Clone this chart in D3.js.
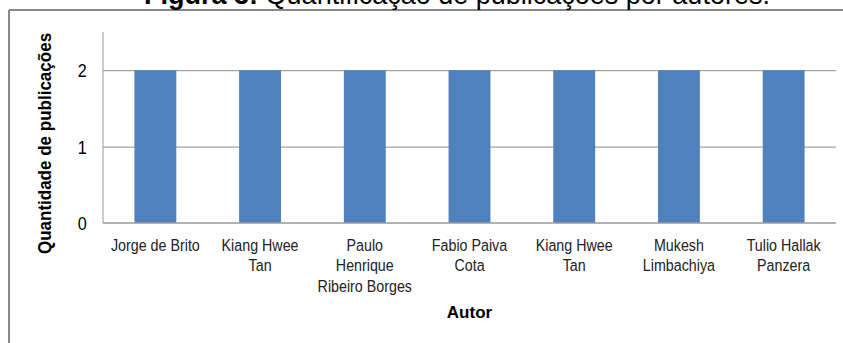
<!DOCTYPE html>
<html>
<head>
<meta charset="utf-8">
<script src="https://cdn.jsdelivr.net/npm/d3@7"></script>
<style>
  html, body { margin: 0; padding: 0; background: #fff; }
  svg { display: block; }
</style>
</head>
<body>
<svg id="chart" width="843" height="343"></svg>
<script>
// Publications per author
const authors = [
  ["Jorge de Brito"],
  ["Kiang Hwee", "Tan"],
  ["Paulo", "Henrique", "Ribeiro Borges"],
  ["Fabio Paiva", "Cota"],
  ["Kiang Hwee", "Tan"],
  ["Mukesh", "Limbachiya"],
  ["Tulio Hallak", "Panzera"]
];
const publications = [2, 2, 2, 2, 2, 2, 2];
const yTicks = [0, 1, 2];

const svg = d3.select("#chart");
const W = 843, H = 343;
const plot = { left: 103, right: 836, top: 32, bottom: 223 };
const sans = "'Liberation Sans', Arial, sans-serif";
const condense = 0.84; // horizontal squeeze for the narrow category labels

// Outer frame (top and left edges visible)
svg.append("line").attr("x1", 9).attr("x2", W).attr("y1", 10).attr("y2", 10)
  .attr("stroke", "#888").attr("stroke-width", 2);
svg.append("line").attr("x1", 9).attr("x2", 9).attr("y1", 10).attr("y2", H)
  .attr("stroke", "#888").attr("stroke-width", 2);

// Caption above the frame
const cap = svg.append("text").attr("x", 457).attr("y", 4)
  .attr("text-anchor", "middle").attr("font-family", sans).attr("font-size", 27).attr("fill", "#000");
cap.append("tspan").attr("font-weight", "bold").text("Figura 3:");
cap.append("tspan").text(" Quantificação de publicações por autores.");

const idx = authors.map((d, i) => i);
const x = d3.scaleBand().domain(idx).range([plot.left, plot.right]).paddingInner(0.6).paddingOuter(0.3);
const y = d3.scaleLinear().domain([0, 2.5]).range([plot.bottom, plot.top]);

// Horizontal gridlines
svg.append("g")
  .attr("transform", `translate(${plot.left},0)`)
  .call(d3.axisLeft(y).tickValues(yTicks.filter(v => v > 0)).tickSize(-(plot.right - plot.left)).tickFormat(""))
  .call(g => g.select(".domain").remove())
  .call(g => g.selectAll("line").attr("stroke", "#8c8c8c").attr("stroke-width", 1));

// Bars
svg.append("g").selectAll("rect").data(publications).join("rect")
  .attr("x", (d, i) => x(i))
  .attr("y", d => y(d))
  .attr("width", x.bandwidth())
  .attr("height", d => y(0) - y(d))
  .attr("fill", "#4f81bd");

// Y axis
svg.append("g")
  .attr("transform", `translate(${plot.left},0)`)
  .call(d3.axisLeft(y).tickValues(yTicks).tickSize(0).tickPadding(18).tickFormat(d3.format("d")))
  .call(g => g.select(".domain").attr("stroke", "#9a9a9a").attr("d", `M0,${plot.top}V${plot.bottom}`))
  .call(g => g.selectAll("text").attr("font-family", sans).attr("font-size", 18).attr("fill", "#000")
    .attr("transform", "scale(0.9,1)").attr("dy", "0.36em"));

// X axis baseline and wrapped labels
const xAxis = svg.append("g")
  .attr("transform", `translate(0,${plot.bottom})`)
  .call(d3.axisBottom(x).tickSize(0).tickFormat(""))
  .call(g => g.select(".domain").attr("stroke", "#9a9a9a").attr("stroke-width", 1.5).attr("d", `M${plot.left},0H${plot.right}`));

xAxis.selectAll(".tick").each(function (i) {
  const t = d3.select(this).select("text")
    .attr("y", 0).attr("dy", null)
    .attr("transform", `scale(${condense},1)`)
    .attr("font-family", sans).attr("font-size", 17).attr("fill", "#222");
  authors[i].forEach((line, k) => {
    t.append("tspan").attr("x", 0).attr("y", 28 + k * 20.5).text(line);
  });
});

// Axis titles
svg.append("text")
  .attr("transform", `translate(51,${(plot.top + plot.bottom) / 2 + 16}) rotate(-90) scale(0.92,1)`)
  .attr("text-anchor", "middle").attr("font-family", sans).attr("font-weight", "bold")
  .attr("font-size", 18.5).attr("fill", "#000")
  .text("Quantidade de publicações");

svg.append("text")
  .attr("x", (plot.left + plot.right) / 2).attr("y", 318)
  .attr("text-anchor", "middle").attr("font-family", sans).attr("font-weight", "bold")
  .attr("font-size", 17).attr("fill", "#000")
  .text("Autor");
</script>
</body>
</html>
